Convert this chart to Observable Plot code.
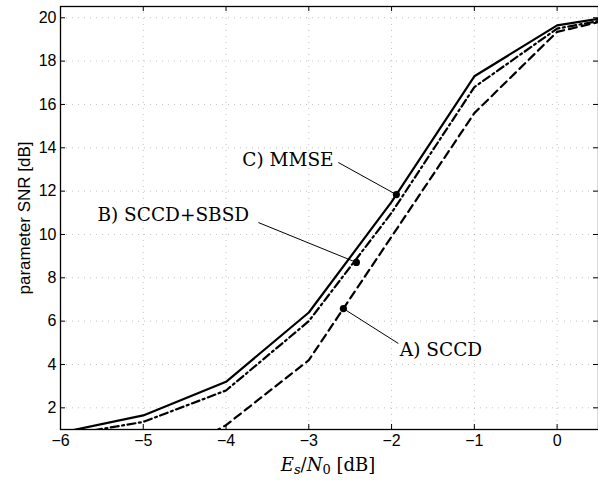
<!DOCTYPE html>
<html>
<head>
<meta charset="utf-8">
<script src="https://cdn.jsdelivr.net/npm/d3@7"></script>
<script src="https://cdn.jsdelivr.net/npm/@observablehq/plot@0.6"></script>
<style>
  html, body { margin: 0; padding: 0; background: #fff; }
  #chart svg { display: block; }
</style>
</head>
<body>
<div id="chart"></div>
<script>
// Es/N0 [dB]
const esn0 = [-6, -5, -4, -3, -2, -1, 0, 0.5];
// parameter SNR [dB]
const mmse = [0.85, 1.65, 3.2, 6.4, 11.5, 17.3, 19.65, 19.95];   // C) MMSE (solid)
const sbsd = [0.7, 1.35, 2.8, 6.0, 11.0, 16.8, 19.5, 19.85];     // B) SCCD+SBSD (dash-dot)
const sccd = [-2.5, -0.9, 1.2, 4.2, 9.9, 15.6, 19.35, 19.8];     // A) SCCD (dashed)

const xTicks = [-6, -5, -4, -3, -2, -1, 0];
const yTicks = [2, 4, 6, 8, 10, 12, 14, 16, 18, 20];

// annotations: marker point, leader start, label
const annLabels = ["C) MMSE", "B) SCCD+SBSD", "A) SCCD"];
const annDotX = [-1.942, -2.425, -2.582];
const annDotY = [11.84, 8.71, 6.58];
const annLineX = [-2.643, -3.609, -1.918];
const annLineY = [13.32, 10.55, 4.97];
const annTextX = [-2.70, -3.72, -1.90];
const annTextY = [13.41, 10.88, 4.65];
const annAnchor = ["end", "end", "start"];

const series = [
  ...esn0.map((x, i) => ({x, y: mmse[i], s: "mmse"})),
  ...esn0.map((x, i) => ({x, y: sbsd[i], s: "sbsd"})),
  ...esn0.map((x, i) => ({x, y: sccd[i], s: "sccd"}))
];
const ann = annLabels.map((t, i) => ({
  t, dx: annDotX[i], dy: annDotY[i], lx: annLineX[i], ly: annLineY[i],
  tx: annTextX[i], ty: annTextY[i], a: annAnchor[i]
}));

const W = 598, H = 481;
const mT = 6, mB = 52, mL = 60, mR = 0;
const frameH = H - mT - mB, frameW = W - mL - mR;
const tk = 5;
const tickFont = "Liberation Sans, Arial, Helvetica, sans-serif";
const serif = "DejaVu Serif, Liberation Serif, serif";

const dashes = {mmse: null, sbsd: "8,3.5,2,3.5", sccd: "8,5"};

const plot = Plot.plot({
  width: W, height: H,
  marginTop: mT, marginBottom: mB, marginLeft: mL, marginRight: mR,
  style: {fontFamily: tickFont, fontSize: "16px", color: "#000", background: "#fff"},
  x: {domain: [-6, 0.5]},
  y: {domain: [1, 20.52]},
  marks: [
    Plot.gridX(xTicks, {stroke: "#888", strokeOpacity: 0.5, strokeDasharray: "1,5"}),
    Plot.gridY(yTicks, {stroke: "#888", strokeOpacity: 0.5, strokeDasharray: "1,5"}),
    ...["mmse", "sbsd", "sccd"].map(s =>
      Plot.line(series.filter(d => d.s === s), {
        x: "x", y: "y", stroke: "#000", strokeWidth: 2.2,
        strokeDasharray: dashes[s], clip: true, strokeLinejoin: "miter"
      })
    ),
    // leaders
    Plot.link(ann, {x1: "lx", y1: "ly", x2: "dx", y2: "dy", stroke: "#000", strokeWidth: 1}),
    Plot.dot(ann, {x: "dx", y: "dy", r: 3.6, fill: "#000", stroke: "none"}),
    Plot.text(ann.filter(d => d.a === "end"), {x: "tx", y: "ty", text: "t", textAnchor: "end", fontFamily: serif, fontSize: 18.5, fill: "#000"}),
    Plot.text(ann.filter(d => d.a === "start"), {x: "tx", y: "ty", text: "t", textAnchor: "start", fontFamily: serif, fontSize: 18.5, fill: "#000"}),
    // inward ticks on all four sides
    Plot.tickX(xTicks, {x: d => d, insetTop: frameH - tk, stroke: "#000"}),
    Plot.tickX(xTicks, {x: d => d, insetBottom: frameH - tk, stroke: "#000"}),
    Plot.tickY(yTicks, {y: d => d, insetRight: frameW - tk, stroke: "#000"}),
    Plot.tickY(yTicks, {y: d => d, insetLeft: frameW - tk, stroke: "#000"}),
    Plot.axisX(xTicks, {tickSize: 0, tickPadding: 5, label: null, fontSize: 16}),
    Plot.axisY(yTicks, {tickSize: 0, tickPadding: 4, label: null, fontSize: 16}),
    Plot.frame({stroke: "#000", strokeWidth: 1.3}),
    Plot.text(["parameter SNR [dB]"], {frameAnchor: "left", textAnchor: "middle", rotate: -90, dx: -36, text: d => d, fontSize: 17, fontFamily: tickFont, fill: "#000"})
  ]
});

document.getElementById("chart").appendChild(plot);

// x-axis label with math-style subscripts
const svg = d3.select(plot);
const xl = svg.append("text")
  .attr("x", 328).attr("y", 471)
  .attr("text-anchor", "middle")
  .attr("font-family", serif)
  .attr("font-size", 18)
  .attr("fill", "#000");
xl.append("tspan").attr("font-style", "italic").text("E");
xl.append("tspan").attr("font-style", "italic").attr("font-size", 13).attr("dy", 3).text("s");
xl.append("tspan").attr("dy", -3).text("/");
xl.append("tspan").attr("font-style", "italic").text("N");
xl.append("tspan").attr("font-size", 13).attr("dy", 3).text("0");
xl.append("tspan").attr("dy", -3).text(" [dB]");
</script>
</body>
</html>
